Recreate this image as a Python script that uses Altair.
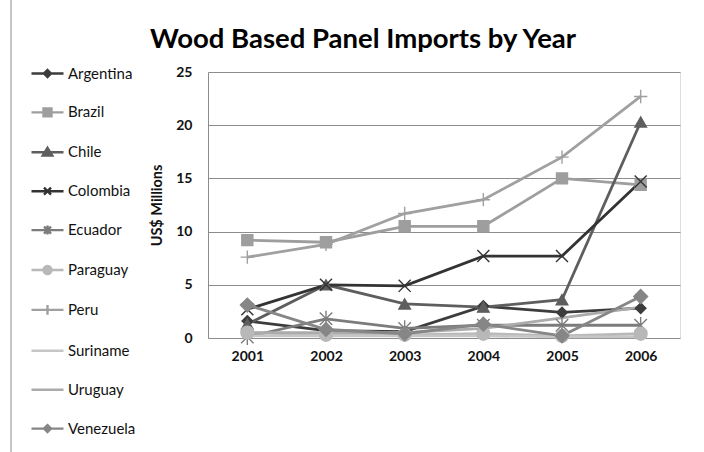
import altair as alt
import pandas as pd

# Wood based panel imports, US$ millions
years = ["2001", "2002", "2003", "2004", "2005", "2006"]
countries = ["Argentina", "Brazil", "Chile", "Colombia", "Ecuador",
             "Paraguay", "Peru", "Suriname", "Uruguay", "Venezuela"]

argentina = [1.6, 0.7, 0.6, 3.0, 2.4, 2.8]
brazil = [9.2, 9.0, 10.5, 10.5, 15.0, 14.4]
chile = [1.3, 5.0, 3.2, 2.9, 3.6, 20.3]
colombia = [2.7, 5.0, 4.9, 7.7, 7.7, 14.7]
ecuador = [0.1, 1.8, 0.9, 1.2, 1.2, 1.2]
paraguay = [0.5, 0.3, 0.3, 0.4, 0.2, 0.4]
peru = [7.6, 8.8, 11.7, 13.0, 17.0, 22.7]
suriname = [0.2, 0.2, 0.2, 0.2, 0.1, 0.1]
uruguay = [0.5, 0.5, 0.5, 0.9, 1.9, 2.9]
venezuela = [3.1, 0.8, 0.4, 1.3, 0.2, 3.9]

series = [argentina, brazil, chile, colombia, ecuador,
          paraguay, peru, suriname, uruguay, venezuela]

colors = ["#3c3c3c", "#9e9e9e", "#5e5e5e", "#333333", "#7c7c7c",
          "#b8b8b8", "#a0a0a0", "#c6c6c6", "#ababab", "#868686"]

title_text = "Wood Based Panel Imports by Year"

rows = []
for name, vals in zip(countries, series):
    for yr, v in zip(years, vals):
        rows.append({"country": name, "year": yr, "value": v})
df = pd.DataFrame(rows)

# marker shapes for the plotted points (unit coordinates)
marker_countries = ["Argentina", "Brazil", "Chile", "Colombia", "Ecuador",
                    "Paraguay", "Peru", "Venezuela"]
marker_shapes = ["diamond", "square", "triangle-up",
                 "M-1,-1L1,1M-1,1L1,-1",
                 "M-1,-1L1,1M-1,1L1,-1M0,-1.3L0,1.3",
                 "circle",
                 "M-1,0L1,0M0,-1L0,1",
                 "diamond"]
marker_sizes = [110, 190, 180, 150, 150, 130, 150, 130]
marker_colors = [colors[countries.index(c)] for c in marker_countries]
marker_fills = ["#3c3c3c", "#9e9e9e", "#5e5e5e", "transparent", "transparent",
                "#b8b8b8", "transparent", "#868686"]

# legend keys: a short line segment with a small marker on it
seg = "M-1,0L1,0"
legend_shapes = [
    seg + "M0,-0.22L0.22,0L0,0.22L-0.22,0Z",
    seg + "M-0.25,-0.25L0.25,-0.25L0.25,0.25L-0.25,0.25Z",
    seg + "M0,-0.28L0.3,0.2L-0.3,0.2Z",
    seg + "M-0.22,-0.22L0.22,0.22M-0.22,0.22L0.22,-0.22",
    seg + "M-0.22,-0.22L0.22,0.22M-0.22,0.22L0.22,-0.22M0,-0.28L0,0.28",
    seg + "M-0.25,0A0.25,0.25 0 1,0 0.25,0A0.25,0.25 0 1,0 -0.25,0Z",
    seg + "M0,-0.3L0,0.3",
    seg,
    seg,
    seg + "M0,-0.22L0.22,0L0,0.22L-0.22,0Z",
]

FONT = "Lato"

x_enc = alt.X("year:O", scale=alt.Scale(type="point", padding=0.5),
              axis=alt.Axis(title=None, domain=False, ticks=False, grid=False,
                            labelAngle=0, labelFont=FONT, labelFontSize=14,
                            labelFontWeight="bold", labelColor="#111111",
                            labelPadding=11))
y_enc = alt.Y("value:Q", scale=alt.Scale(domain=[0, 25], nice=False),
              axis=alt.Axis(title="US$ Millions", values=[0, 5, 10, 15, 20, 25],
                            grid=True, gridColor="#8c8c8c", gridWidth=1,
                            domain=True, domainColor="#8c8c8c", ticks=False,
                            labelFont=FONT, labelFontSize=14,
                            labelFontWeight="bold", labelColor="#111111",
                            labelPadding=16, titleFont=FONT, titleFontSize=14.5,
                            titleFontWeight="bold", titleColor="#111111",
                            titlePadding=11))

lines = alt.Chart(df).mark_line(strokeWidth=2.8).encode(
    x=x_enc, y=y_enc,
    color=alt.Color("country:N", scale=alt.Scale(domain=countries, range=colors),
                    legend=None),
)

points = alt.Chart(df).transform_filter(
    alt.FieldOneOfPredicate(field="country", oneOf=marker_countries)
).mark_point(strokeWidth=1.4, opacity=1).encode(
    x="year:O", y="value:Q",
    shape=alt.Shape("country:N", scale=alt.Scale(domain=marker_countries,
                                                 range=marker_shapes), legend=None),
    size=alt.Size("country:N", scale=alt.Scale(domain=marker_countries,
                                               range=marker_sizes), legend=None),
    fill=alt.Fill("country:N", scale=alt.Scale(domain=marker_countries,
                                               range=marker_fills), legend=None),
    stroke=alt.Stroke("country:N", scale=alt.Scale(domain=marker_countries,
                                                   range=marker_colors), legend=None),
)

key = alt.Legend(title=None, orient="none", legendX=-178, legendY=-16,
                 symbolSize=1024, symbolStrokeWidth=2.4, symbolOpacity=1,
                 rowPadding=12.9, labelOffset=3, labelFont=FONT,
                 labelFontSize=15, labelColor="#111111", labelLimit=200)

legend_layer = alt.Chart(df).mark_point(opacity=0, size=1).encode(
    x="year:O", y="value:Q",
    shape=alt.Shape("country:N", scale=alt.Scale(domain=countries,
                                                 range=legend_shapes), legend=key),
    fill=alt.Fill("country:N", scale=alt.Scale(domain=countries, range=colors),
                  legend=key),
    stroke=alt.Stroke("country:N", scale=alt.Scale(domain=countries, range=colors),
                      legend=key),
)

# chart-area frame on the left edge
frame = alt.Chart(pd.DataFrame({"k": [0]})).mark_rule(
    color="#8c8c8c", strokeWidth=1
).encode(x=alt.value(-197), y=alt.value(-72), y2=alt.value(380))

# chart heading, centred over the whole chart area
heading = alt.Chart(pd.DataFrame({"t": [title_text]})).mark_text(
    font=FONT, fontSize=27.5, fontWeight="bold", color="#000000",
    align="center", baseline="alphabetic"
).encode(x=alt.value(155), y=alt.value(-24), text="t:N")

chart = alt.layer(frame, lines, points, legend_layer, heading).resolve_scale(
    shape="independent", size="independent", fill="independent",
    stroke="independent"
).properties(
    width=472, height=266,
    autosize=alt.AutoSizeParams(type="none"),
    padding={"left": 208, "top": 72, "right": 24, "bottom": 114},
).configure_view(stroke=None).configure(background="white")

chart.save("out.html", embed_options={"renderer": "svg", "actions": False})
